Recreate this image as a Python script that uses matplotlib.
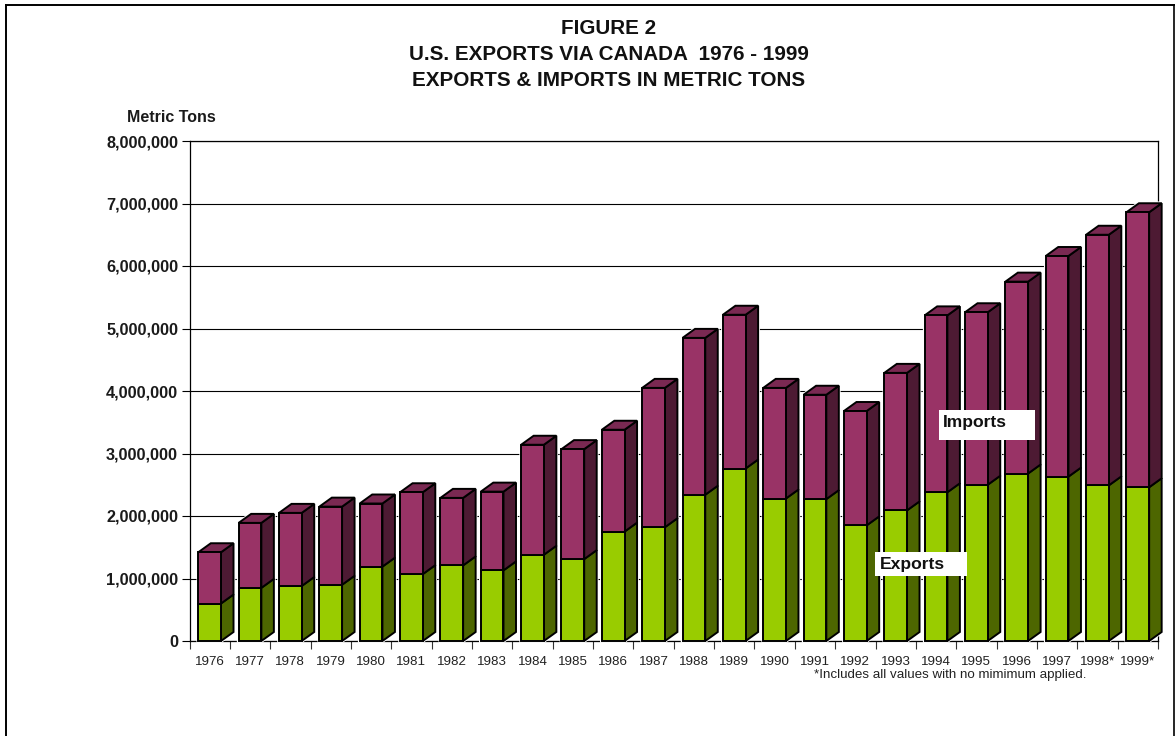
import matplotlib
matplotlib.use("Agg")
import matplotlib.pyplot as plt
from matplotlib.patches import Polygon, Rectangle
from matplotlib.lines import Line2D
from matplotlib.ticker import FuncFormatter

plt.rcParams['font.family'] = ['Liberation Sans', 'DejaVu Sans']

years = ['1976','1977','1978','1979','1980','1981','1982','1983','1984','1985','1986','1987',
         '1988','1989','1990','1991','1992','1993','1994','1995','1996','1997','1998*','1999*']
exports = [600000,850000,880000,900000,1190000,1070000,1210000,1130000,1380000,1310000,1750000,1820000,
           2340000,2760000,2280000,2270000,1850000,2090000,2380000,2500000,2680000,2630000,2490000,2460000]
imports = [820000,1040000,1170000,1250000,1010000,1310000,1080000,1260000,1760000,1760000,1630000,2230000,
           2510000,2460000,1770000,1670000,1830000,2200000,2830000,2760000,3070000,3530000,4010000,4400000]

W, H = 1175, 736
fig = plt.figure(figsize=(W/100, H/100), dpi=100, facecolor='white')
L, R, T, B = 189.5, 1158, 141, 641
ax = fig.add_axes([L/W, 1-B/H, (R-L)/W, (B-T)/H])
ax.set_xlim(0, len(years))
ax.set_ylim(0, 8000000)
ax.set_yticks(range(0, 8000001, 1000000))
ax.yaxis.set_major_formatter(FuncFormatter(lambda v, p: f'{int(v):,}'))
ax.set_xticks(range(len(years)+1))
ax.set_xticklabels([])
ax.set_xticks([i+.5 for i in range(len(years))], labels=years, minor=True)
ax.tick_params(axis='x', which='major', length=8*.72, width=.8, color='#333333')
ax.tick_params(axis='x', which='minor', length=0, pad=10.7, labelsize=9.6, labelcolor='#222222')
ax.tick_params(axis='y', length=8*.72, width=.8, pad=2.4, labelsize=11.7)
for t in ax.get_yticklabels():
    t.set_fontweight('bold')
    t.set_color('#1a1a1a')
ax.grid(axis='y', color='black', lw=.8, zorder=0)
ax.set_axisbelow(True)
for s in ax.spines.values():
    s.set_linewidth(.9)
    s.set_zorder(1)

GAP, BW = 0.218, 0.563
DX = 12.5/40.35
DY = 9*16000
EC = 'black'
LW = 1.4

def block(i, y0, y1, front, side, top=None):
    x0, x1 = i+GAP, i+GAP+BW
    kw = dict(ec=EC, lw=LW, joinstyle='miter', clip_on=False, zorder=3)
    ax.add_patch(Polygon([(x1,y0),(x1+DX,y0+DY),(x1+DX,y1+DY),(x1,y1)], fc=side, **kw))
    if top:
        ax.add_patch(Polygon([(x0,y1),(x0+DX,y1+DY),(x1+DX,y1+DY),(x1,y1)], fc=top, **kw))
    ax.add_patch(Polygon([(x0,y0),(x0,y1),(x1,y1),(x1,y0)], fc=front, **kw))

for i, (e, m) in enumerate(zip(exports, imports)):
    x0, x1 = i+GAP, i+GAP+BW
    ax.add_patch(Polygon([(x0,0),(x0,e+m),(x0+DX,e+m+DY),(x1+DX,e+m+DY),(x1+DX,DY),(x1,0)],
                         fc='white', ec='white', lw=2.6, clip_on=False, zorder=2))
    block(i, 0, e, '#99CC00', '#4D6600')
    block(i, e, e+m, '#993366', '#4D1A33', '#7A2952')

def px(x, y):
    return x/W, 1-y/H

for line, yy in zip(['FIGURE 2', 'U.S. EXPORTS VIA CANADA  1976 - 1999', 'EXPORTS & IMPORTS IN METRIC TONS'], [29, 54, 81]):
    fig.text(*px(609, yy), line, ha='center', va='center', fontsize=14.9, fontweight='bold', color='#111111')
fig.text(*px(171.5, 118), 'Metric Tons', ha='center', va='center', fontsize=11.5, fontweight='bold', color='#1a1a1a')
fig.text(*px(950.5, 675), '*Includes all values with no mimimum applied.', ha='center', va='center', fontsize=9.6, color='#222222')

for (x, y, w, h, tx, ty, s) in [(939, 410, 96, 30, 943, 422, 'Imports'), (875, 552, 92, 24, 880, 564, 'Exports')]:
    fig.add_artist(Rectangle(px(x, y+h), w/W, h/H, transform=fig.transFigure, fc='white', ec='none', zorder=5))
    fig.text(*px(tx, ty), s, ha='left', va='center', fontsize=12.6, fontweight='bold', color='#111111', zorder=6)

for xs, ys, lw in [([5.5, 5.5], [4.5, 736], 1.4), ([5.5, 1174], [4.5, 4.5], 1.4), ([1174, 1174], [4.5, 736], 1.2)]:
    fig.add_artist(Line2D([x/W for x in xs], [1-y/H for y in ys], transform=fig.transFigure, color='black', lw=lw))

fig.savefig('out.png', dpi=100)
